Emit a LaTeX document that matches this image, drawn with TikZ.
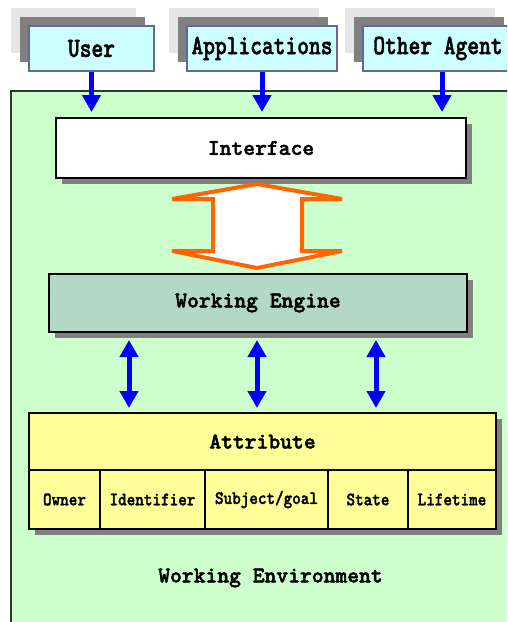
\documentclass[tikz,border=0pt]{standalone}
\usepackage{fontspec}
\setmainfont{lmmonolt10-regular.otf}[BoldFont=lmmonolt10-bold.otf, BoldFeatures={FakeBold=2}]
\newfontfamily\tallfont{lmmonolt10-bold.otf}[FakeStretch=0.8, FakeBold=1.5]
\newfontfamily\cellfont{lmmonolt10-bold.otf}[FakeStretch=0.86, FakeBold=1.5]
\usetikzlibrary{arrows.meta,shadows}
\definecolor{envgreen}{RGB}{204,255,204}
\definecolor{agentcyan}{RGB}{204,255,255}
\definecolor{agentedge}{RGB}{102,102,153}
\definecolor{lightshade}{RGB}{230,230,230}
\definecolor{darkshade}{RGB}{128,128,128}
\definecolor{enginefill}{RGB}{179,216,198}
\definecolor{attrfill}{RGB}{255,255,153}
\definecolor{flowblue}{RGB}{0,0,255}
\definecolor{floworange}{RGB}{255,102,0}
\tikzset{
  agentbox/.style={draw=agentedge, line width=1.5pt, fill=agentcyan,
    inner sep=0pt, minimum height=45pt,
    general shadow={shadow xshift=-18pt, shadow yshift=18pt, fill=lightshade},
    general shadow={shadow xshift=-9pt, shadow yshift=9pt, fill=darkshade},
    font=\tallfont\fontsize{28}{30}\selectfont},
  layerbox/.style={draw=black, line width=2pt, inner sep=0pt,
    general shadow={shadow xshift=6pt, shadow yshift=-6pt, fill=darkshade},
    font=\bfseries\fontsize{22.5}{24}\selectfont},
  cellbox/.style={layerbox, fill=attrfill, minimum height=59pt,
    font=\cellfont\fontsize{19}{20}\selectfont},
  inflow/.style={draw=flowblue, line width=5pt,
    -{Triangle[width=18pt,length=17pt]}, shorten >=5pt},
  exchange/.style={draw=flowblue, line width=5pt,
    {Triangle[width=18pt,length=17pt]}-{Triangle[width=18pt,length=17pt]},
    shorten <=7pt, shorten >=4pt},
}
\begin{document}
\begin{tikzpicture}[x=1pt,y=-1pt]
\useasboundingbox (0,0) rectangle (507,622);
\clip (0,0) rectangle (507,622);
\fill[white] (0,0) rectangle (507,622);

% outside parties
\node[agentbox, minimum width=125pt] (user) at (91.5,48.5) {User};
\node[agentbox, minimum width=150pt] (apps) at (262,48.5) {Applications};
\node[agentbox, minimum width=150pt] (agent) at (438,48.5) {Other Agent};

% working environment container
\node[draw=black!80, line width=1.5pt, fill=envgreen, inner sep=0pt,
  minimum width=519pt, minimum height=559pt] (env) at (270.5,370.5) {};
\node[font=\bfseries\fontsize{22.5}{24}\selectfont] (envlabel) at (270.5,578) {Working Environment};

% layers
\node[layerbox, fill=white, minimum width=410pt, minimum height=60pt] (iface) at (261,148) {Interface};
\node[layerbox, fill=enginefill, minimum width=418pt, minimum height=58pt] (engine) at (258,303) {Working Engine};
\node[layerbox, fill=attrfill, minimum width=467pt, minimum height=57pt] (attr) at (262.5,441.5) {Attribute};

% attribute fields
\node[cellbox, minimum width=71pt] (owner) at (64.5,499.5) {Owner};
\node[cellbox, minimum width=105pt] (ident) at (152.5,499.5) {Identifier};
\node[cellbox, minimum width=123pt] (subj) at (266.5,499.5) {Subject/goal};
\node[cellbox, minimum width=80pt] (state) at (368,499.5) {State};
\node[cellbox, minimum width=88pt] (life) at (452,499.5) {Lifetime};

% requests into the interface
\draw[inflow] (user.south) -- (user.south |- iface.north);
\draw[inflow] (apps.south) -- (apps.south |- iface.north);
\draw[inflow] ([xshift=4pt]agent.south) -- ([xshift=4pt]agent.south |- iface.north);

% hollow two-way arrow between interface and engine
\draw[floworange, line width=4pt, fill=white]
  (257,184) -- (342,199) -- (302,199) -- (302,251) -- (342,251)
  -- (257,268) -- (172,251) -- (213,251) -- (213,199) -- (172,199) -- cycle;

% engine <-> attribute exchanges
\draw[exchange] ([xshift=-129pt]engine.south) -- ([xshift=-129pt]engine.south |- attr.north);
\draw[exchange] ([xshift=-1pt]engine.south) -- ([xshift=-1pt]engine.south |- attr.north);
\draw[exchange] ([xshift=118pt]engine.south) -- ([xshift=118pt]engine.south |- attr.north);
\end{tikzpicture}
\end{document}
